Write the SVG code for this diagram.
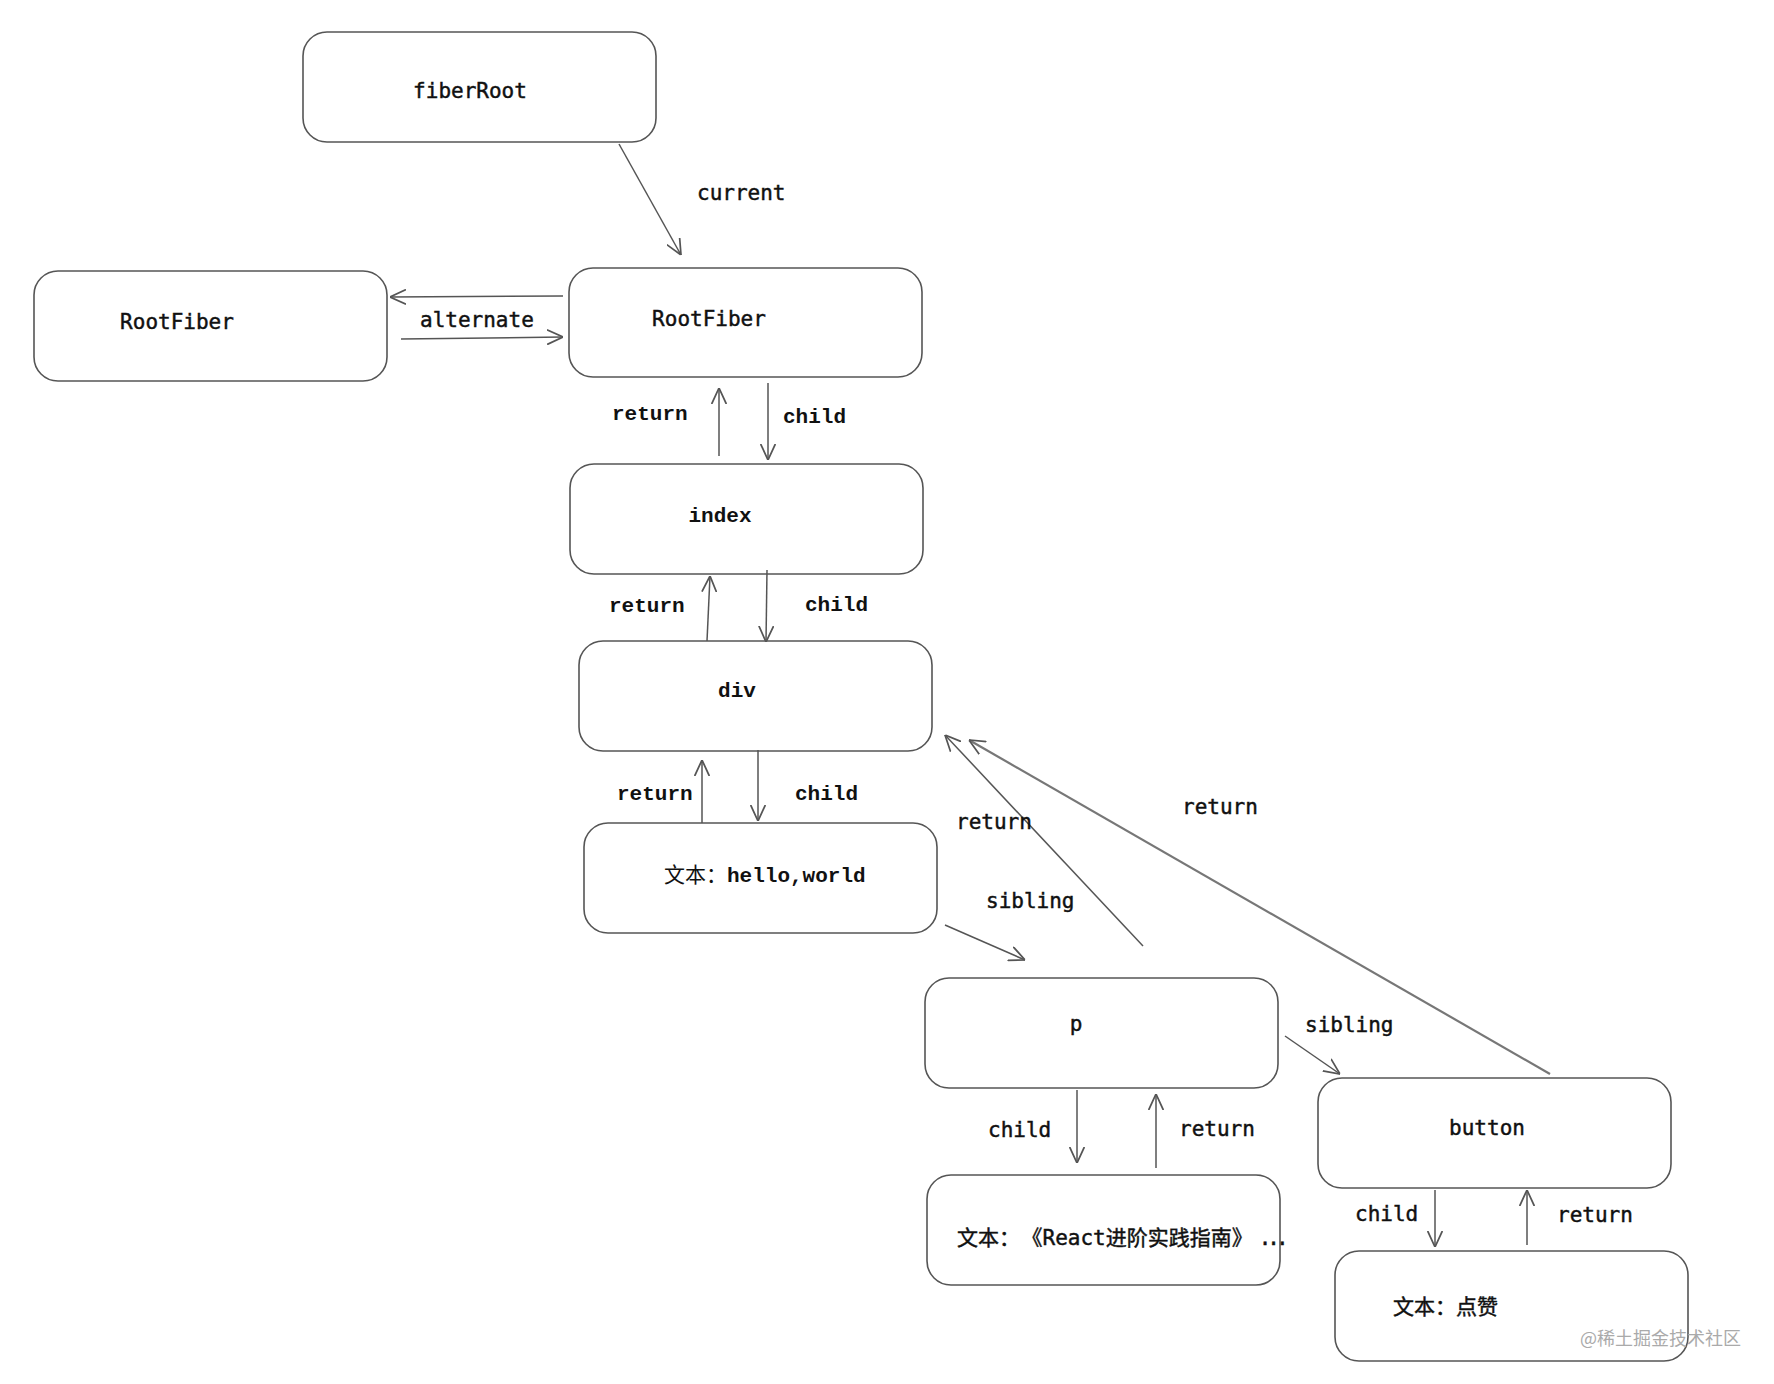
<svg xmlns="http://www.w3.org/2000/svg" width="1774" height="1384" viewBox="0 0 1774 1384">
<style>
.box{fill:#fff;stroke:#555;stroke-width:1.6}
.a{font-family:"DejaVu Sans Mono","Noto Sans CJK SC",monospace;font-size:21px;fill:#111;stroke:#111;stroke-width:0.45}
.b{font-family:"Liberation Mono","Noto Sans CJK SC",monospace;font-size:21px;font-weight:bold;fill:#111}
.c{stroke:#555;stroke-width:1.5;fill:none;marker-end:url(#ah)}
.c2{stroke:#777;stroke-width:2.2;fill:none;marker-end:url(#ah)}
.wm{font-family:"Noto Sans CJK SC",sans-serif;font-size:18px;fill:#aaa}
</style>
<defs>
<marker id="ah" viewBox="0 0 12 12" refX="12" refY="6" markerWidth="16" markerHeight="16" markerUnits="userSpaceOnUse" orient="auto">
<path d="M0,0.5 L12,6 L0,11.5" fill="none" stroke="#555" stroke-width="1.3"/>
</marker>
</defs>
<rect width="1774" height="1384" fill="#fff"/>
<g id="fiberRoot"><rect class="box" x="303" y="32" width="353" height="110" rx="24"/><text class="a" x="470" y="98" text-anchor="middle">fiberRoot</text></g>
<g id="rootFiberAlt"><rect class="box" x="34" y="271" width="353" height="110" rx="24"/><text class="a" x="177" y="329" text-anchor="middle">RootFiber</text></g>
<g id="rootFiber"><rect class="box" x="569" y="268" width="353" height="109" rx="24"/><text class="a" x="709" y="326" text-anchor="middle">RootFiber</text></g>
<g id="index"><rect class="box" x="570" y="464" width="353" height="110" rx="24"/><text class="b" x="720" y="522" text-anchor="middle">index</text></g>
<g id="div"><rect class="box" x="579" y="641" width="353" height="110" rx="24"/><text class="b" x="737" y="697" text-anchor="middle">div</text></g>
<g id="hello"><rect class="box" x="584" y="823" width="353" height="110" rx="24"/><text class="b" x="664" y="882"><tspan font-weight="normal">文本：</tspan>hello,world</text></g>
<g id="p"><rect class="box" x="925" y="978" width="353" height="110" rx="24"/><text class="a" x="1076" y="1031" text-anchor="middle">p</text></g>
<g id="button"><rect class="box" x="1318" y="1078" width="353" height="110" rx="24"/><text class="a" x="1487" y="1135" text-anchor="middle">button</text></g>
<g id="reactText"><rect class="box" x="927" y="1175" width="353" height="110" rx="24"/><text class="a" x="957" y="1245">文本：<tspan dx="12">《React进阶实践指南》</tspan><tspan dx="6" letter-spacing="-4">...</tspan></text></g>
<g id="likeText"><rect class="box" x="1335" y="1251" width="353" height="110" rx="24"/><text class="a" x="1393" y="1314">文本：点赞</text></g>
<g id="connectors">
<line class="c" x1="619" y1="144" x2="681" y2="255"/>
<line class="c" x1="563" y1="296" x2="390" y2="297"/>
<line class="c" x1="401" y1="339" x2="563" y2="337"/>
<line class="c" x1="719" y1="456" x2="719" y2="388"/>
<line class="c" x1="768" y1="383" x2="768" y2="460"/>
<line class="c" x1="707" y1="641" x2="710" y2="576"/>
<line class="c" x1="767" y1="570" x2="766" y2="642"/>
<line class="c" x1="702" y1="823" x2="702" y2="760"/>
<line class="c" x1="758" y1="750" x2="758" y2="821"/>
<line class="c" x1="1143" y1="946" x2="945" y2="735"/>
<line class="c2" x1="1550" y1="1074" x2="969" y2="740"/>
<line class="c" x1="945" y1="925" x2="1025" y2="960"/>
<line class="c" x1="1285" y1="1036" x2="1340" y2="1074"/>
<line class="c" x1="1077" y1="1090" x2="1077" y2="1163"/>
<line class="c" x1="1156" y1="1168" x2="1156" y2="1094"/>
<line class="c" x1="1435" y1="1190" x2="1435" y2="1247"/>
<line class="c" x1="1527" y1="1245" x2="1527" y2="1190"/>
<text class="a" x="697" y="200">current</text>
<text class="a" x="420" y="327">alternate</text>
<text class="b" x="612" y="420">return</text>
<text class="b" x="783" y="423">child</text>
<text class="b" x="609" y="612">return</text>
<text class="b" x="805" y="611">child</text>
<text class="b" x="617" y="800">return</text>
<text class="b" x="795" y="800">child</text>
<text class="a" x="956" y="829">return</text>
<text class="a" x="1182" y="814">return</text>
<text class="a" x="986" y="908">sibling</text>
<text class="a" x="1305" y="1032">sibling</text>
<text class="a" x="988" y="1137">child</text>
<text class="a" x="1179" y="1136">return</text>
<text class="a" x="1355" y="1221">child</text>
<text class="a" x="1557" y="1222">return</text>
</g>
<text class="wm" x="1580" y="1345">@稀土掘金技术社区</text>
</svg>
